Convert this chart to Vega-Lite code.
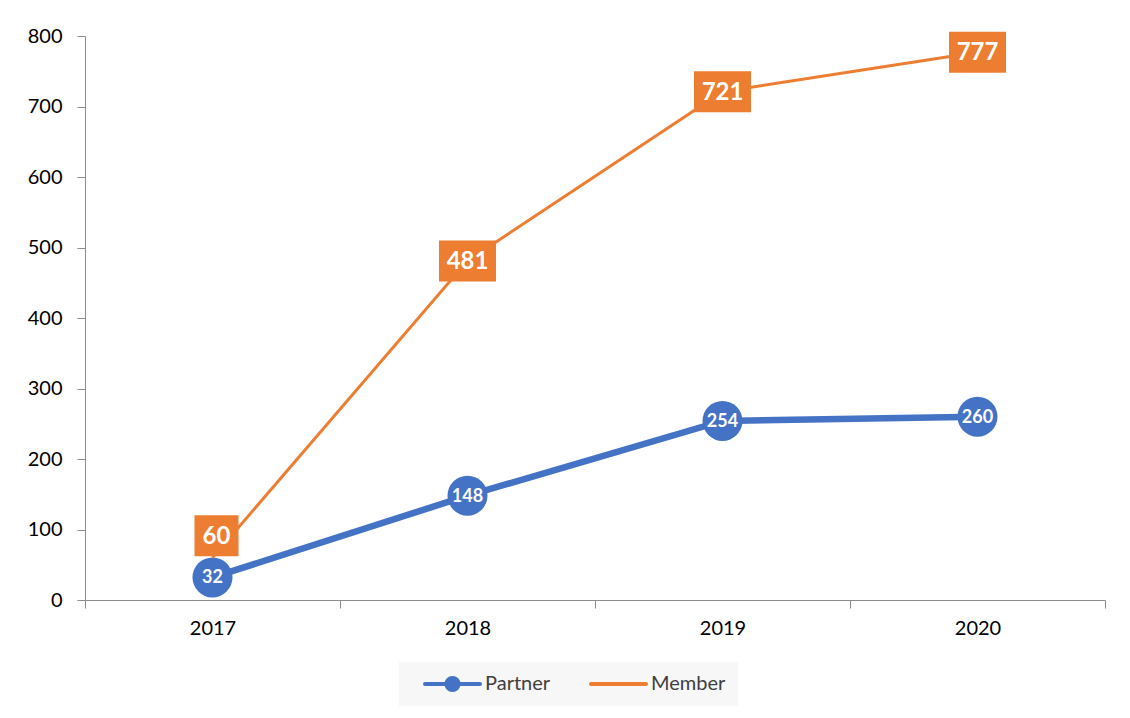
{
  "$schema": "https://vega.github.io/schema/vega-lite/v6.json",
  "width": 1020,
  "height": 564,
  "autosize": {"type": "none"},
  "padding": {"left": 85, "top": 36, "right": 25, "bottom": 118},
  "background": "white",
  "config": {"font": "Lato", "view": {"stroke": null}},
  "data": {
    "values": [
      {"year": "2017", "series": "Partner", "value": 32},
      {"year": "2018", "series": "Partner", "value": 148},
      {"year": "2019", "series": "Partner", "value": 254},
      {"year": "2020", "series": "Partner", "value": 260},
      {"year": "2017", "series": "Member", "value": 60},
      {"year": "2018", "series": "Member", "value": 481},
      {"year": "2019", "series": "Member", "value": 721},
      {"year": "2020", "series": "Member", "value": 777}
    ]
  },
  "encoding": {
    "x": {
      "field": "year",
      "type": "ordinal",
      "scale": {"paddingInner": 0, "paddingOuter": 0},
      "axis": {
        "title": null,
        "labelAngle": 0,
        "tickBand": "extent",
        "tickSize": 8,
        "tickColor": "#8c8c8c",
        "domainColor": "#8c8c8c",
        "labelPadding": 10,
        "labelFontSize": 20,
        "labelColor": "#000000",
        "grid": false
      }
    },
    "y": {
      "field": "value",
      "type": "quantitative",
      "scale": {"domain": [0, 800]},
      "axis": {
        "title": null,
        "values": [0, 100, 200, 300, 400, 500, 600, 700, 800],
        "tickSize": 8,
        "tickColor": "#8c8c8c",
        "domainColor": "#8c8c8c",
        "labelPadding": 15,
        "labelFontSize": 20,
        "labelColor": "#000000",
        "grid": false
      }
    }
  },
  "layer": [
    {
      "transform": [{"filter": "datum.series === 'Partner'"}],
      "mark": {"type": "line", "strokeWidth": 6.5},
      "encoding": {
        "color": {
          "field": "series",
          "type": "nominal",
          "scale": {"domain": ["Partner", "Member"], "range": ["#4472C4", "#ED7D31"]},
          "legend": {
            "orient": "none",
            "legendX": 314,
            "legendY": 626,
            "direction": "horizontal",
            "title": null,
            "fillColor": "#f7f7f7",
            "padding": 12,
            "clipHeight": 20,
            "labelFont": "Lato",
            "labelFontSize": 20,
            "labelColor": "#404040",
            "symbolType": "stroke",
            "symbolSize": 3025,
            "symbolStrokeWidth": 4,
            "labelOffset": 3,
            "columnPadding": 26,
            "symbolOffset": 12,
            "encode": {
              "symbols": {
                "update": {
                  "shape": {"signal": "datum.value === 'Partner' ? 'M-1,0H1M0.22,0A0.22,0.22 0 1,1 -0.22,0A0.22,0.22 0 1,1 0.22,0Z' : 'M-1,0H1'"},
                  "fill": {"signal": "datum.value === 'Partner' ? '#4472C4' : 'transparent'"},
                  "size": {"value": 3025},
                  "strokeWidth": {"value": 4},
                  "strokeCap": {"value": "round"}
                }
              }
            }
          }
        }
      }
    },
    {
      "transform": [{"filter": "datum.series === 'Partner'"}],
      "mark": {"type": "point", "filled": true, "opacity": 1, "size": 1600, "color": "#4472C4"},
      "encoding": {}
    },
    {
      "transform": [{"filter": "datum.series === 'Member'"}],
      "mark": {"type": "line", "strokeWidth": 3},
      "encoding": {
        "color": {"field": "series", "type": "nominal"}
      }
    },
    {
      "transform": [{"filter": "datum.series === 'Member' && datum.year !== '2017'"}],
      "mark": {"type": "point", "filled": true, "opacity": 1, "size": 3249, "color": "#ED7D31", "shape": "M-1,-0.72H1V0.72H-1Z"},
      "encoding": {}
    },
    {
      "transform": [{"filter": "datum.series === 'Member' && datum.year === '2017'"}],
      "mark": {"type": "point", "filled": true, "opacity": 1, "size": 3249, "color": "#ED7D31", "shape": "M-0.772,-0.72H0.772V0.72H-0.772Z", "xOffset": 4, "yOffset": -22},
      "encoding": {}
    },
    {
      "transform": [{"filter": "datum.series === 'Partner'"}],
      "mark": {"type": "text", "color": "white", "font": "Lato", "fontWeight": "bold", "fontSize": 18, "baseline": "middle", "align": "center", "dy": 1},
      "encoding": {"text": {"field": "value", "type": "quantitative"}}
    },
    {
      "transform": [{"filter": "datum.series === 'Member' && datum.year !== '2017'"}],
      "mark": {"type": "text", "color": "white", "font": "Lato", "fontWeight": "bold", "fontSize": 24, "baseline": "middle", "align": "center", "dy": 1},
      "encoding": {"text": {"field": "value", "type": "quantitative"}}
    },
    {
      "transform": [{"filter": "datum.series === 'Member' && datum.year === '2017'"}],
      "mark": {"type": "text", "color": "white", "font": "Lato", "fontWeight": "bold", "fontSize": 24, "baseline": "middle", "align": "center", "dy": 1, "xOffset": 4, "yOffset": -22},
      "encoding": {"text": {"field": "value", "type": "quantitative"}}
    }
  ]
}
